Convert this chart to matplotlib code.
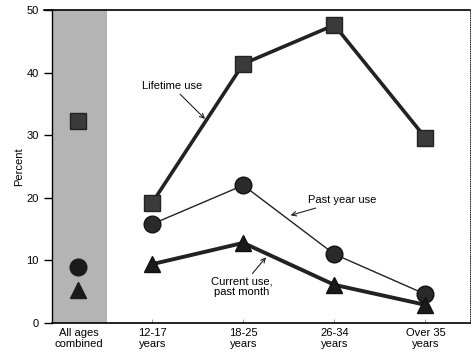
import numpy as np
import matplotlib
matplotlib.use('Agg')
from matplotlib import pyplot as plt

plt.rcParams['font.family'] = ['Liberation Sans', 'DejaVu Sans']

# data
age_groups = ['12-17\nyears', '18-25\nyears', '26-34\nyears', 'Over 35\nyears']
lifetime = [19.2, 41.4, 47.6, 29.6]
past_year = [15.8, 22.0, 11.0, 4.6]
current = [9.4, 12.8, 6.1, 2.9]

all_ages_label = 'All ages\ncombined'
all_lifetime = 32.3
all_past_year = 8.9
all_current = 5.3

x = np.arange(1, len(age_groups) + 1)
x_all = 0.19

fig = plt.figure(figsize=(4.77, 3.56), dpi=100)
ax = fig.add_axes([52 / 477, 33 / 356, 418 / 477, 313 / 356])

ax.set_xlim(-0.10, 4.49)
ax.set_ylim(0, 50)

# shaded column for all ages
ax.axvspan(-0.10, 0.505, color='#b4b4b4', zorder=0, lw=0)

ax.plot(x, lifetime, color='#222222', lw=2.6, zorder=2)
ax.plot(x, past_year, color='#222222', lw=1.0, zorder=2)
ax.plot(x, current, color='#222222', lw=2.8, zorder=2)

ax.plot(x, lifetime, 's', ms=11, color='#3a3a3a', mec='#222222', zorder=3)
ax.plot(x, past_year, 'o', ms=12, color='#2a2a2a', mec='#111111', zorder=3)
ax.plot(x, current, '^', ms=11, color='#1a1a1a', mec='#111111', zorder=3)

ax.plot(x_all, all_lifetime, 's', ms=11, color='#3a3a3a', mec='#222222', zorder=3)
ax.plot(x_all, all_past_year, 'o', ms=12, color='#1a1a1a', zorder=3)
ax.plot(x_all, all_current, '^', ms=11, color='#1a1a1a', zorder=3)

arrow = dict(arrowstyle='->', color='#222222', lw=0.8, shrinkA=0, shrinkB=0)
ax.annotate('Lifetime use', xy=(1.58, 32.6), xytext=(1.22, 37.8),
            fontsize=8, ha='center', va='center', arrowprops=arrow)
ax.annotate('Past year use', xy=(2.52, 17.2), xytext=(3.09, 19.6),
            fontsize=8, ha='center', va='center', arrowprops=arrow)
ax.annotate('Current use,\npast month', xy=(2.25, 10.5), xytext=(1.98, 5.8),
            fontsize=8, ha='center', va='center', linespacing=1.1,
            arrowprops=arrow)

ax.set_xticks([x_all] + list(x))
ax.set_xticklabels([all_ages_label] + age_groups, fontsize=8, linespacing=1.15)
ax.tick_params(axis='x', direction='in', length=3, width=0.6, color='#888888')
ax.xaxis.get_major_ticks()[0].tick1line.set_visible(False)

ax.set_yticks([0, 10, 20, 30, 40, 50])
ax.tick_params(axis='y', direction='out', length=6, width=1, labelsize=8)
ax.set_ylabel('Percent', fontsize=8, labelpad=2)

# top rule runs out over the tick area like the original
ax.plot([-0.02, 0], [1, 1], transform=ax.transAxes, color='black',
        lw=1.2, clip_on=False)

ax.spines['left'].set_linewidth(1.0)
ax.spines['bottom'].set_linewidth(1.2)
ax.spines['top'].set_linewidth(1.2)
ax.spines['right'].set_linewidth(0.6)
ax.spines['right'].set_linestyle(':')

fig.savefig('out.png', dpi=100)
